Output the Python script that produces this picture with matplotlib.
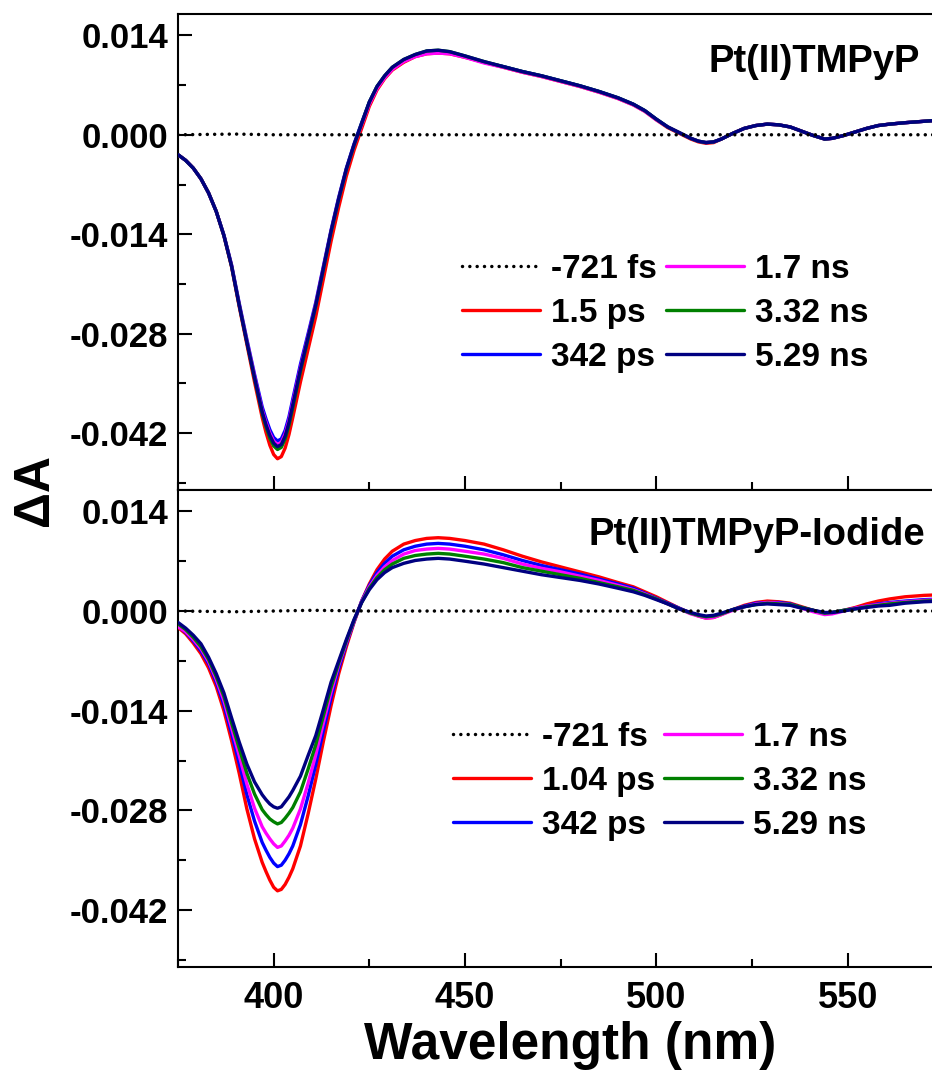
import matplotlib
matplotlib.use("Agg")
import matplotlib.pyplot as plt
from matplotlib.ticker import MultipleLocator, FixedLocator

# ---------------- data ----------------
wavelength = [375, 377, 379, 381, 383, 385, 387, 389, 391, 393,
              395, 397, 398, 399, 400, 401, 402, 403, 404, 405,
              407, 409, 411, 413, 415, 417, 419, 421, 423, 425,
              427, 429, 431, 434, 437, 440, 443, 446, 450, 455,
              460, 465, 470, 475, 480, 485, 490, 494, 497, 500,
              503, 506, 509, 511, 513, 515, 517, 520, 523, 526,
              529, 532, 535, 538, 541, 544, 546, 549, 552, 555,
              558, 561, 565, 570, 575, 580]

# -721 fs traces (flat, sampled more coarsely)
dotted_wavelength = [375, 390, 400, 410, 425, 450, 475, 500, 525, 550, 580]
top_m721fs = [0.0000, 0.0001, 0.0000, 0.0000, 0.0000, 0.0000, 0.0000, 0.0000, 0.0000, 0.0000, 0.0000]
bot_m721fs = [0.0000, -0.0001, 0.0000, 0.0001, 0.0000, 0.0000, 0.0000, 0.0000, 0.0000, 0.0000, 0.0000]

# Top panel: Pt(II)TMPyP
top_1p5ps = [-0.0028, -0.0036, -0.0047, -0.0062, -0.0082, -0.0108, -0.0142, -0.0186, -0.0242, -0.0295,
             -0.0348, -0.0398, -0.0419, -0.0437, -0.0450, -0.0456, -0.0453, -0.0441, -0.0422, -0.0398,
             -0.0348, -0.0302, -0.0256, -0.0203, -0.0150, -0.0102, -0.0058, -0.0022, 0.0009, 0.0040,
             0.0063, 0.0079, 0.0091, 0.0102, 0.0110, 0.0114, 0.0115, 0.0114, 0.0109, 0.0102,
             0.0095, 0.0088, 0.0082, 0.0075, 0.0068, 0.0060, 0.0051, 0.0042, 0.0033, 0.0021,
             0.0010, 0.0002, -0.0006, -0.0010, -0.0012, -0.0011, -0.0006, 0.0002, 0.0009, 0.0013,
             0.0015, 0.0014, 0.0011, 0.0005, -0.0001, -0.0006, -0.0005, -0.0001, 0.0004, 0.0009,
             0.0013, 0.0015, 0.0017, 0.0019, 0.0021, 0.0022]
top_342ps = [-0.0028, -0.0036, -0.0047, -0.0062, -0.0082, -0.0108, -0.0141, -0.0183, -0.0237, -0.0288,
             -0.0337, -0.0383, -0.0400, -0.0415, -0.0426, -0.0431, -0.0428, -0.0416, -0.0397, -0.0372,
             -0.0323, -0.0280, -0.0236, -0.0185, -0.0134, -0.0088, -0.0047, -0.0013, 0.0017, 0.0046,
             0.0067, 0.0082, 0.0094, 0.0105, 0.0112, 0.0117, 0.0118, 0.0116, 0.0110, 0.0102,
             0.0096, 0.0089, 0.0083, 0.0076, 0.0069, 0.0061, 0.0052, 0.0043, 0.0034, 0.0022,
             0.0011, 0.0003, -0.0005, -0.0009, -0.0011, -0.0010, -0.0006, 0.0002, 0.0009, 0.0013,
             0.0015, 0.0014, 0.0011, 0.0005, -0.0001, -0.0006, -0.0005, -0.0001, 0.0004, 0.0009,
             0.0013, 0.0015, 0.0017, 0.0019, 0.0021, 0.0022]
top_1p7ns = [-0.0028, -0.0036, -0.0047, -0.0062, -0.0082, -0.0108, -0.0142, -0.0184, -0.0239, -0.0290,
             -0.0340, -0.0388, -0.0405, -0.0420, -0.0431, -0.0436, -0.0433, -0.0421, -0.0402, -0.0377,
             -0.0328, -0.0284, -0.0239, -0.0187, -0.0136, -0.0090, -0.0049, -0.0015, 0.0014, 0.0043,
             0.0065, 0.0080, 0.0092, 0.0103, 0.0110, 0.0114, 0.0115, 0.0114, 0.0109, 0.0101,
             0.0095, 0.0088, 0.0082, 0.0075, 0.0068, 0.0060, 0.0051, 0.0042, 0.0033, 0.0021,
             0.0011, 0.0003, -0.0005, -0.0009, -0.0011, -0.0010, -0.0006, 0.0002, 0.0009, 0.0013,
             0.0015, 0.0014, 0.0011, 0.0005, -0.0001, -0.0006, -0.0005, -0.0001, 0.0004, 0.0009,
             0.0013, 0.0015, 0.0017, 0.0019, 0.0021, 0.0022]
top_3p32ns = [-0.0028, -0.0036, -0.0047, -0.0062, -0.0082, -0.0108, -0.0142, -0.0185, -0.0240, -0.0292,
              -0.0343, -0.0392, -0.0411, -0.0427, -0.0438, -0.0443, -0.0440, -0.0428, -0.0409, -0.0384,
              -0.0333, -0.0287, -0.0241, -0.0189, -0.0137, -0.0091, -0.0049, -0.0015, 0.0016, 0.0046,
              0.0068, 0.0083, 0.0095, 0.0106, 0.0113, 0.0118, 0.0119, 0.0117, 0.0111, 0.0103,
              0.0096, 0.0089, 0.0083, 0.0076, 0.0069, 0.0061, 0.0052, 0.0043, 0.0034, 0.0022,
              0.0011, 0.0003, -0.0005, -0.0009, -0.0011, -0.0010, -0.0006, 0.0002, 0.0009, 0.0013,
              0.0015, 0.0014, 0.0011, 0.0005, -0.0001, -0.0006, -0.0005, -0.0001, 0.0004, 0.0009,
              0.0013, 0.0015, 0.0017, 0.0019, 0.0021, 0.0022]
top_5p29ns = [-0.0028, -0.0036, -0.0047, -0.0062, -0.0082, -0.0108, -0.0142, -0.0185, -0.0240, -0.0292,
              -0.0342, -0.0390, -0.0408, -0.0423, -0.0434, -0.0439, -0.0436, -0.0424, -0.0405, -0.0380,
              -0.0330, -0.0285, -0.0240, -0.0188, -0.0136, -0.0090, -0.0048, -0.0014, 0.0016, 0.0046,
              0.0068, 0.0083, 0.0095, 0.0106, 0.0113, 0.0118, 0.0119, 0.0117, 0.0111, 0.0103,
              0.0096, 0.0089, 0.0083, 0.0076, 0.0069, 0.0061, 0.0052, 0.0043, 0.0034, 0.0022,
              0.0011, 0.0003, -0.0005, -0.0009, -0.0011, -0.0010, -0.0006, 0.0002, 0.0009, 0.0013,
              0.0015, 0.0014, 0.0011, 0.0005, -0.0001, -0.0006, -0.0005, -0.0001, 0.0004, 0.0009,
              0.0013, 0.0015, 0.0017, 0.0019, 0.0021, 0.0022]

# Bottom panel: Pt(II)TMPyP-Iodide
bot_1p04ps = [-0.0023, -0.0032, -0.0045, -0.0060, -0.0080, -0.0106, -0.0140, -0.0182, -0.0228, -0.0278,
              -0.0320, -0.0353, -0.0366, -0.0378, -0.0388, -0.0393, -0.0391, -0.0384, -0.0374, -0.0362,
              -0.0330, -0.0285, -0.0236, -0.0183, -0.0133, -0.0088, -0.0050, -0.0016, 0.0014, 0.0038,
              0.0058, 0.0073, 0.0084, 0.0094, 0.0099, 0.0102, 0.0103, 0.0102, 0.0099, 0.0094,
              0.0086, 0.0077, 0.0069, 0.0062, 0.0055, 0.0048, 0.0040, 0.0034, 0.0027, 0.0020,
              0.0012, 0.0004, -0.0003, -0.0007, -0.0010, -0.0009, -0.0005, 0.0002, 0.0008, 0.0012,
              0.0014, 0.0013, 0.0011, 0.0006, 0.0001, -0.0003, -0.0002, 0.0001, 0.0005, 0.0010,
              0.0014, 0.0017, 0.0020, 0.0022, 0.0023, 0.0024]
bot_342ps = [-0.0021, -0.0030, -0.0042, -0.0056, -0.0074, -0.0100, -0.0132, -0.0172, -0.0214, -0.0258,
             -0.0295, -0.0325, -0.0336, -0.0346, -0.0354, -0.0359, -0.0357, -0.0350, -0.0341, -0.0330,
             -0.0300, -0.0260, -0.0216, -0.0168, -0.0122, -0.0081, -0.0046, -0.0015, 0.0014, 0.0036,
             0.0054, 0.0067, 0.0077, 0.0086, 0.0091, 0.0094, 0.0095, 0.0094, 0.0091, 0.0086,
             0.0079, 0.0071, 0.0064, 0.0058, 0.0052, 0.0045, 0.0038, 0.0032, 0.0025, 0.0018,
             0.0011, 0.0004, -0.0003, -0.0006, -0.0009, -0.0008, -0.0004, 0.0002, 0.0007, 0.0011,
             0.0012, 0.0012, 0.0010, 0.0005, 0.0001, -0.0003, -0.0002, 0.0001, 0.0004, 0.0007,
             0.0010, 0.0012, 0.0014, 0.0016, 0.0017, 0.0018]
bot_1p7ns = [-0.0022, -0.0029, -0.0040, -0.0053, -0.0071, -0.0096, -0.0126, -0.0164, -0.0203, -0.0243,
             -0.0277, -0.0303, -0.0312, -0.0320, -0.0327, -0.0332, -0.0330, -0.0323, -0.0315, -0.0305,
             -0.0278, -0.0242, -0.0202, -0.0157, -0.0114, -0.0076, -0.0044, -0.0014, 0.0013, 0.0034,
             0.0050, 0.0062, 0.0071, 0.0080, 0.0085, 0.0087, 0.0088, 0.0087, 0.0084, 0.0080,
             0.0074, 0.0066, 0.0060, 0.0055, 0.0049, 0.0043, 0.0036, 0.0030, 0.0024, 0.0017,
             0.0010, 0.0003, -0.0004, -0.0007, -0.0010, -0.0009, -0.0005, 0.0001, 0.0006, 0.0010,
             0.0012, 0.0011, 0.0009, 0.0004, -0.0001, -0.0005, -0.0004, 0.0000, 0.0004, 0.0007,
             0.0009, 0.0011, 0.0013, 0.0015, 0.0016, 0.0017]
bot_3p32ns = [-0.0018, -0.0026, -0.0037, -0.0050, -0.0068, -0.0092, -0.0120, -0.0157, -0.0193, -0.0228,
              -0.0257, -0.0279, -0.0286, -0.0292, -0.0296, -0.0299, -0.0297, -0.0291, -0.0284, -0.0276,
              -0.0254, -0.0222, -0.0188, -0.0147, -0.0107, -0.0073, -0.0042, -0.0013, 0.0012, 0.0032,
              0.0047, 0.0058, 0.0066, 0.0074, 0.0078, 0.0080, 0.0081, 0.0080, 0.0077, 0.0073,
              0.0068, 0.0061, 0.0056, 0.0051, 0.0046, 0.0040, 0.0034, 0.0029, 0.0023, 0.0017,
              0.0010, 0.0003, -0.0003, -0.0006, -0.0008, -0.0007, -0.0004, 0.0002, 0.0006, 0.0009,
              0.0011, 0.0010, 0.0009, 0.0005, 0.0001, -0.0003, -0.0002, 0.0001, 0.0003, 0.0006,
              0.0008, 0.0010, 0.0012, 0.0014, 0.0015, 0.0016]
bot_5p29ns = [-0.0016, -0.0024, -0.0034, -0.0046, -0.0065, -0.0088, -0.0115, -0.0150, -0.0184, -0.0215,
              -0.0240, -0.0258, -0.0265, -0.0271, -0.0275, -0.0277, -0.0275, -0.0268, -0.0261, -0.0252,
              -0.0232, -0.0203, -0.0175, -0.0138, -0.0100, -0.0070, -0.0040, -0.0012, 0.0012, 0.0030,
              0.0044, 0.0054, 0.0061, 0.0067, 0.0071, 0.0073, 0.0074, 0.0073, 0.0070, 0.0066,
              0.0061, 0.0056, 0.0051, 0.0047, 0.0043, 0.0038, 0.0032, 0.0027, 0.0022, 0.0016,
              0.0010, 0.0003, -0.0002, -0.0005, -0.0007, -0.0006, -0.0003, 0.0002, 0.0006, 0.0009,
              0.0010, 0.0009, 0.0008, 0.0004, 0.0001, -0.0002, -0.0002, 0.0000, 0.0003, 0.0005,
              0.0007, 0.0008, 0.0011, 0.0013, 0.0014, 0.0015]

top_labels = ["-721 fs", "1.5 ps", "342 ps", "1.7 ns", "3.32 ns", "5.29 ns"]
bot_labels = ["-721 fs", "1.04 ps", "342 ps", "1.7 ns", "3.32 ns", "5.29 ns"]
top_title = "Pt(II)TMPyP"
bot_title = "Pt(II)TMPyP-Iodide"
x_ticks = [400, 450, 500, 550]
y_ticks = [-0.042, -0.028, -0.014, 0.000, 0.014]

colors = ["black", "#ff0000", "#0000ff", "#ff00ff", "#008000", "#000080"]

# ---------------- figure ----------------
plt.rcParams['font.family'] = ['Liberation Sans', 'DejaVu Sans']
plt.rcParams['font.weight'] = 'bold'

W, H = 932, 1074
fig = plt.figure(figsize=(W / 100, H / 100), dpi=100)

x_left, x_right = 375, 580
left_px = 178
px_per_nm = 191.5 / 50
right_px = 273 + (x_right - 400) * px_per_nm
ax_w = (right_px - left_px) / W

ax_top = fig.add_axes([left_px / W, 1 - 490 / H, ax_w, (490 - 14) / H])
ax_bot = fig.add_axes([left_px / W, 1 - 967 / H, ax_w, (967 - 490) / H])

panels = [
    (ax_top, top_m721fs, [top_1p5ps, top_342ps, top_1p7ns, top_3p32ns, top_5p29ns],
     top_labels, top_title, (462, 254), (920, 62)),
    (ax_bot, bot_m721fs, [bot_1p04ps, bot_342ps, bot_1p7ns, bot_3p32ns, bot_5p29ns],
     bot_labels, bot_title, (453, 722), (925, 535)),
]

for ax, dotted, series, labels, title, leg_xy, title_xy in panels:
    handles = []
    h, = ax.plot(dotted_wavelength, dotted, color=colors[0], lw=2.5,
                 linestyle=(0, (0.01, 2.1)), dash_capstyle='round', label=labels[0], zorder=5)
    handles.append(h)
    for i, (ys, lab, c) in enumerate(zip(series, labels[1:], colors[1:])):
        h, = ax.plot(wavelength, ys, color=c, lw=2.4, label=lab, zorder=3 + i * 0.1,
                     solid_joinstyle='round', solid_capstyle='round')
        handles.append(h)
    ax.set_xlim(x_left, x_right)
    ax.set_ylim(-0.050, 0.017)
    ax.yaxis.set_major_locator(FixedLocator(y_ticks))
    ax.yaxis.set_minor_locator(MultipleLocator(0.007))
    ax.xaxis.set_major_locator(FixedLocator(x_ticks))
    ax.xaxis.set_minor_locator(MultipleLocator(25))
    ax.tick_params(axis='both', which='both', direction='in', top=False, right=False, width=1.5)
    ax.tick_params(axis='both', which='major', length=10)
    ax.tick_params(axis='both', which='minor', length=6)
    ax.tick_params(axis='y', labelsize=25, pad=7)
    ax.set_yticklabels([f"{v:.3f}" for v in y_ticks], fontweight='bold')
    for s in ax.spines.values():
        s.set_linewidth(1.5)
    ax.legend(handles=handles, ncol=2, frameon=False,
              prop={'family': 'Liberation Sans', 'weight': 'bold', 'size': 24},
              handlelength=2.35, handletextpad=0.33, columnspacing=0.25,
              labelspacing=0.39, borderaxespad=0, borderpad=0,
              loc='upper left',
              bbox_to_anchor=(leg_xy[0] / W, 1 - leg_xy[1] / H),
              bbox_transform=fig.transFigure)
    fig.text(title_xy[0] / W, 1 - title_xy[1] / H, title, fontsize=27.5,
             fontweight='bold', ha='right', va='center')

ax_top.tick_params(axis='x', labelbottom=False)
ax_bot.set_xticklabels([str(v) for v in x_ticks], fontweight='bold', fontsize=26)
ax_bot.tick_params(axis='x', pad=10)
ax_bot.set_xlabel("Wavelength (nm)", fontweight='bold', fontsize=37, va='center')
ax_bot.xaxis.set_label_coords(0.5, -(1046 - 967) / 477)

fig.text(35 / W, 1 - 490 / H, "ΔA", rotation=90, fontsize=36, fontweight='bold',
         ha='center', va='center')

fig.savefig("out.png", dpi=100)
